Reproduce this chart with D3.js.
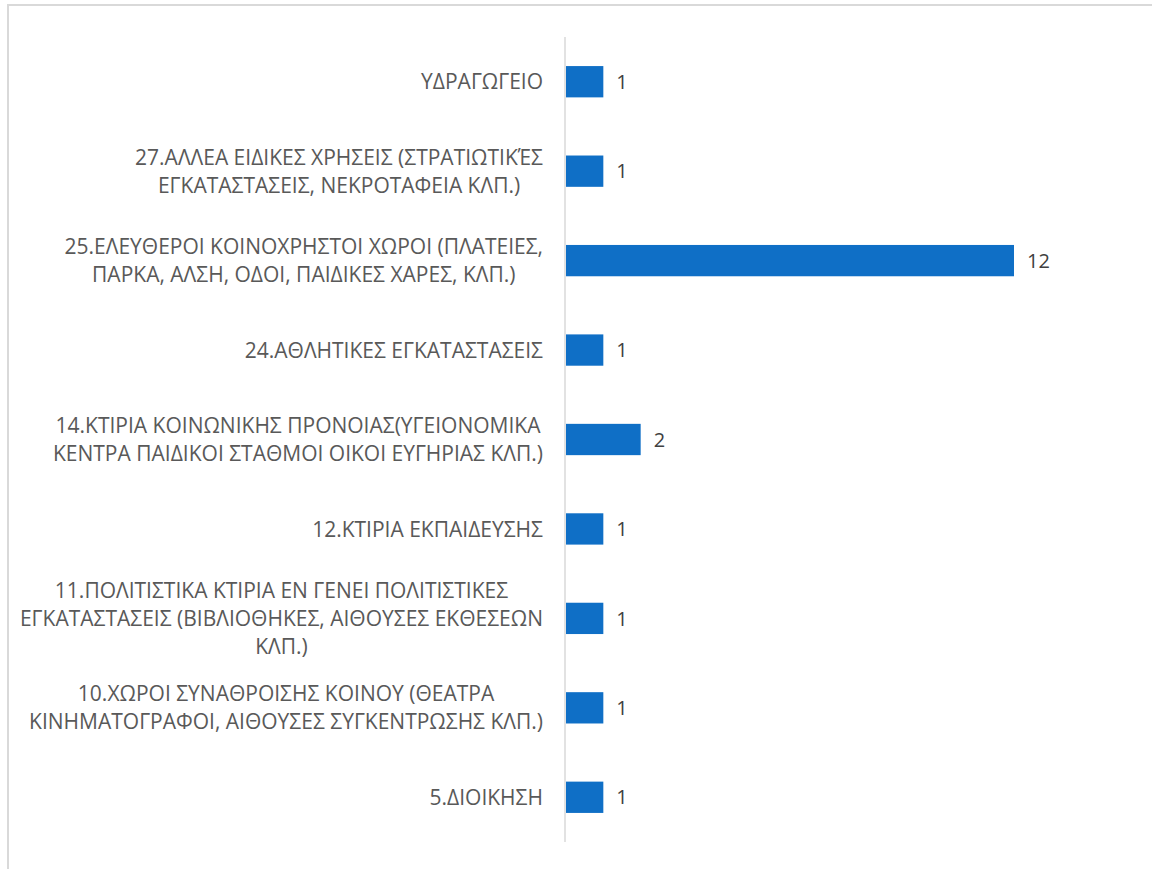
<!DOCTYPE html>
<html>
<head>
<meta charset="utf-8">
<script src="https://cdn.jsdelivr.net/npm/d3@7"></script>
<style>
  body { margin: 0; background: #fff; }
  text { font-family: "Open Sans", "Noto Sans", sans-serif; }
</style>
</head>
<body>
<script>
// categories, top to bottom, already split into lines
var categories = [
  ["ΥΔΡΑΓΩΓΕΙΟ"],
  ["27.ΑΛΛΕΑ ΕΙΔΙΚΕΣ ΧΡΗΣΕΙΣ (ΣΤΡΑΤΙΩΤΙΚΈΣ", "ΕΓΚΑΤΑΣΤΑΣΕΙΣ, ΝΕΚΡΟΤΑΦΕΙΑ ΚΛΠ.)"],
  ["25.ΕΛΕΥΘΕΡΟΙ ΚΟΙΝΟΧΡΗΣΤΟΙ ΧΩΡΟΙ (ΠΛΑΤΕΙΕΣ,", "ΠΑΡΚΑ, ΑΛΣΗ, ΟΔΟΙ, ΠΑΙΔΙΚΕΣ ΧΑΡΕΣ, ΚΛΠ.)"],
  ["24.ΑΘΛΗΤΙΚΕΣ ΕΓΚΑΤΑΣΤΑΣΕΙΣ"],
  ["14.ΚΤΙΡΙΑ ΚΟΙΝΩΝΙΚΗΣ ΠΡΟΝΟΙΑΣ(ΥΓΕΙΟΝΟΜΙΚΑ", "ΚΕΝΤΡΑ ΠΑΙΔΙΚΟΙ ΣΤΑΘΜΟΙ ΟΙΚΟΙ ΕΥΓΗΡΙΑΣ ΚΛΠ.)"],
  ["12.ΚΤΙΡΙΑ ΕΚΠΑΙΔΕΥΣΗΣ"],
  ["11.ΠΟΛΙΤΙΣΤΙΚΑ ΚΤΙΡΙΑ ΕΝ ΓΕΝΕΙ ΠΟΛΙΤΙΣΤΙΚΕΣ", "ΕΓΚΑΤΑΣΤΑΣΕΙΣ (ΒΙΒΛΙΟΘΗΚΕΣ, ΑΙΘΟΥΣΕΣ ΕΚΘΕΣΕΩΝ", "ΚΛΠ.)"],
  ["10.ΧΩΡΟΙ ΣΥΝΑΘΡΟΙΣΗΣ ΚΟΙΝΟΥ (ΘΕΑΤΡΑ", "ΚΙΝΗΜΑΤΟΓΡΑΦΟΙ, ΑΙΘΟΥΣΕΣ ΣΥΓΚΕΝΤΡΩΣΗΣ ΚΛΠ.)"],
  ["5.ΔΙΟΙΚΗΣΗ"]
];
var values = [1, 1, 12, 1, 2, 1, 1, 1, 1];

var W = 1152, H = 869;
var x0 = 565, plotTop = 37, plotBottom = 842;

var svg = d3.select("body").append("svg")
    .attr("width", W)
    .attr("height", H);

// chart frame (only top and left edges visible)
svg.append("line").attr("x1", 7).attr("x2", W).attr("y1", 5).attr("y2", 5)
    .attr("stroke", "#d9d9d9").attr("stroke-width", 2);
svg.append("line").attr("x1", 8).attr("x2", 8).attr("y1", 5).attr("y2", H)
    .attr("stroke", "#d9d9d9").attr("stroke-width", 2);

var xScale = d3.scaleLinear().domain([0, 12]).range([x0 + 1, 1014]);
var yScale = d3.scaleBand()
    .domain(d3.range(categories.length))
    .range([plotTop, plotBottom])
    .paddingInner(0.65)
    .paddingOuter(0.325);

// bars
svg.selectAll(".bar")
    .data(values)
    .enter().append("rect")
    .attr("class", "bar")
    .attr("x", xScale(0))
    .attr("y", function(d, i) { return yScale(i); })
    .attr("width", function(d) { return xScale(d) - xScale(0); })
    .attr("height", yScale.bandwidth())
    .attr("fill", "#0f6fc6");

// category axis line
svg.append("line")
    .attr("x1", x0).attr("x2", x0)
    .attr("y1", plotTop).attr("y2", plotBottom)
    .attr("stroke", "#d9d9d9").attr("stroke-width", 1.5);

// value labels
svg.selectAll(".val")
    .data(values)
    .enter().append("text")
    .attr("class", "val")
    .attr("x", function(d) { return xScale(d) + 13; })
    .attr("y", function(d, i) { return yScale(i) + yScale.bandwidth() / 2; })
    .attr("dy", "0.36em")
    .attr("font-size", 20)
    .attr("fill", "#404040")
    .text(function(d) { return d; });

// category labels: block right-aligned, lines centered inside block
var lineH = 28, labelRight = 543;
categories.forEach(function(lines, i) {
  var g = svg.append("g");
  var cy = yScale(i) + yScale.bandwidth() / 2;
  var ts = lines.map(function(s, j) {
    return g.append("text")
      .attr("y", cy + (j - (lines.length - 1) / 2) * lineH)
      .attr("dy", "0.36em")
      .attr("font-size", 21)
      .attr("fill", "#595959")
      .attr("text-anchor", "middle")
      .text(s);
  });
  var bw = d3.max(ts, function(t) { return t.node().getComputedTextLength(); });
  ts.forEach(function(t) { t.attr("x", labelRight - bw / 2); });
});
</script>
</body>
</html>
